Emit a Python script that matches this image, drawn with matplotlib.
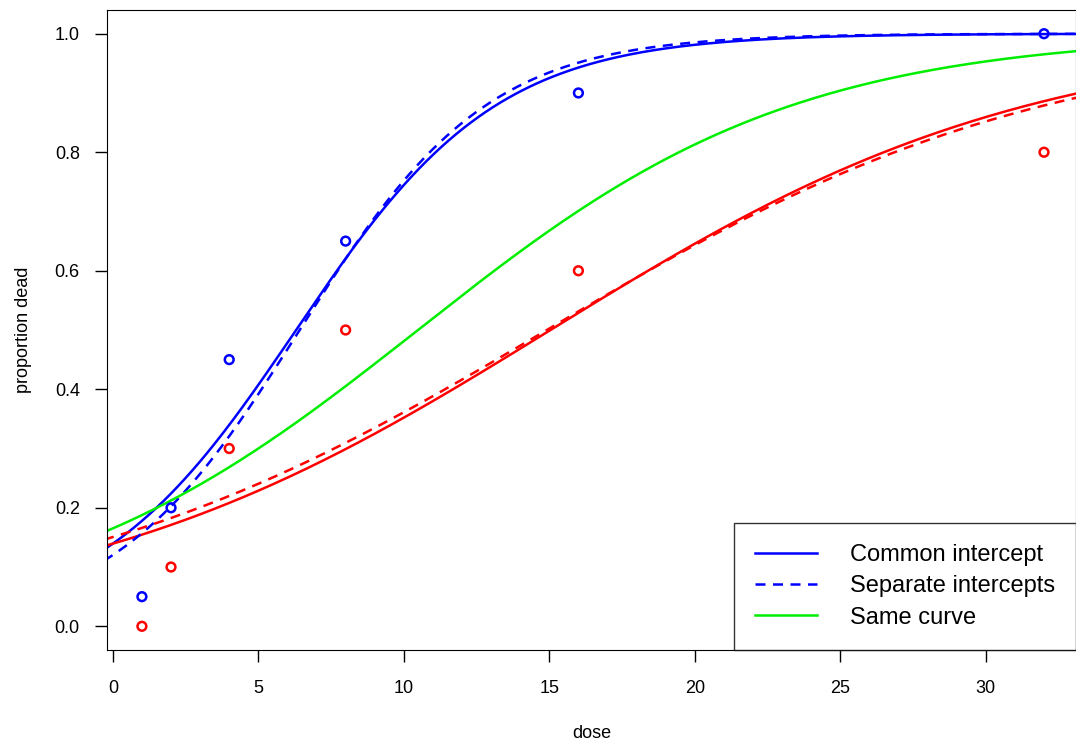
import numpy as np
import matplotlib.pyplot as plt
from matplotlib.lines import Line2D

plt.rcParams['font.family'] = ['Liberation Sans', 'DejaVu Sans']

dose = [1, 2, 4, 8, 16, 32]
prop_male = [0.05, 0.20, 0.45, 0.65, 0.90, 1.00]
prop_female = [0.00, 0.10, 0.30, 0.50, 0.60, 0.80]

# fitted logistic coefficients (intercept, slope)
common_male = (-1.82, 0.289)
common_female = (-1.82, 0.121)
separate_male = (-1.99, 0.31)
separate_female = (-1.73, 0.116)
same_curve = (-1.62, 0.1545)

def logistic(coef, x):
    return 1 / (1 + np.exp(-(coef[0] + coef[1] * x)))

fig = plt.figure(figsize=(10.76, 7.52), dpi=100)
ax = fig.add_axes([107 / 1076, 102 / 752, 969 / 1076, 640 / 752])
xs = np.linspace(-0.3, 33.2, 400)

ax.plot(xs, logistic(common_male, xs), color='blue', lw=1.8)
ax.plot(xs, logistic(common_female, xs), color='red', lw=1.8)
ax.plot(xs, logistic(separate_male, xs), color='blue', lw=1.8, ls=(0, (4, 3)))
ax.plot(xs, logistic(separate_female, xs), color='red', lw=1.8, ls=(0, (4, 3)))
ax.plot(xs, logistic(same_curve, xs), color='#00ee00', lw=1.8)
ax.scatter(dose, prop_male, s=40, facecolors='none', edgecolors='blue', lw=1.8, zorder=3)
ax.scatter(dose, prop_female, s=40, facecolors='none', edgecolors='red', lw=1.8, zorder=3)

ax.set_xlim(-0.2, 33.1)
ax.set_ylim(-0.04, 1.04)
ax.set_xticks([0, 5, 10, 15, 20, 25, 30])
ax.set_yticks([0.0, 0.2, 0.4, 0.6, 0.8, 1.0])
ax.set_yticklabels(['0.0', '0.2', '0.4', '0.6', '0.8', '1.0'])
ax.tick_params(labelsize=13, length=8.6, width=1)
ax.tick_params(axis='x', pad=13)
ax.tick_params(axis='y', pad=11)
ax.set_xlabel('dose', fontsize=13, labelpad=20)
ax.set_ylabel('proportion dead', fontsize=13, labelpad=16)

handles = [Line2D([], [], color='blue', lw=1.8),
           Line2D([], [], color='blue', lw=1.8, ls=(0, (4, 3))),
           Line2D([], [], color='#00ee00', lw=1.8)]
leg = ax.legend(handles, ['Common intercept', 'Separate intercepts', 'Same curve'],
                loc='lower right', fontsize=17, frameon=True, fancybox=False,
                edgecolor='black', borderaxespad=0, handlelength=2.6,
                handletextpad=1.4, borderpad=0.9, labelspacing=0.4)
leg.get_frame().set_linewidth(1)

fig.savefig('out.png', dpi=100)
